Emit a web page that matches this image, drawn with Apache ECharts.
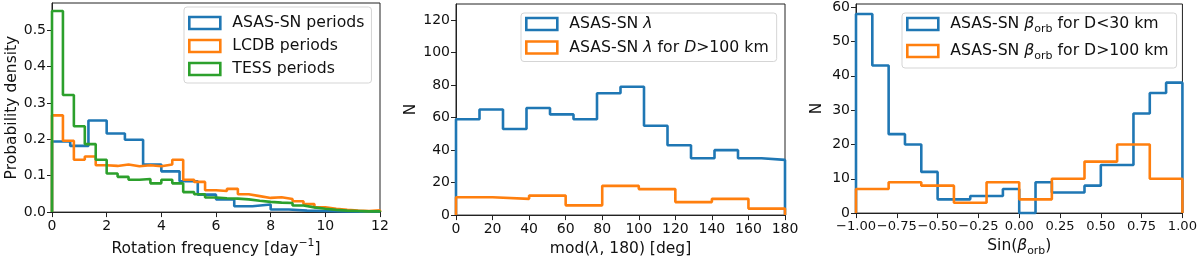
<!DOCTYPE html>
<html>
<head>
<meta charset="utf-8">
<script src="https://cdn.jsdelivr.net/npm/echarts@6/dist/echarts.min.js"></script>
<style>
html,body{margin:0;padding:0;background:#fff;}
#c{width:1200px;height:262px;}
</style>
</head>
<body>
<div id="c"></div>
<script>
// ---------- Panel 1: rotation frequency (probability density) ----------
const freqEdgesASAS = [0, 0.667, 1.333, 2, 2.667, 3.333, 4, 4.667, 5.333, 6, 6.667, 7.333, 8, 8.667, 9.333, 10, 10.667, 11.333, 12];
const freqASAS = [0.194, 0.182, 0.252, 0.216, 0.199, 0.131, 0.112, 0.085, 0.048, 0.035, 0.016, 0.021, 0.007, 0.004, 0.003, 0.002, 0.001, 0.001];
const freqEdges04 = [0, 0.4, 0.8, 1.2, 1.6, 2.0, 2.4, 2.8, 3.2, 3.6, 4.0, 4.4, 4.8, 5.2, 5.6, 6.0, 6.4, 6.8, 7.2, 7.6, 8.0, 8.4, 8.8, 9.2, 9.6, 10.0, 10.4, 10.8, 11.2, 11.6, 12.0];
const freqLCDB = [0.266, 0.196, 0.144, 0.153, 0.129, 0.127, 0.131, 0.126, 0.129, 0.126, 0.131, 0.144, 0.089, 0.083, 0.060, 0.058, 0.064, 0.049, 0.044, 0.039, 0.041, 0.036, 0.030, 0.022, 0.013, 0.009, 0.006, 0.004, 0.003, 0.005];
const freqTESS = [0.553, 0.322, 0.236, 0.187, 0.144, 0.106, 0.097, 0.089, 0.091, 0.079, 0.089, 0.079, 0.055, 0.049, 0.040, 0.038, 0.037, 0.035, 0.031, 0.028, 0.026, 0.025, 0.018, 0.013, 0.009, 0.006, 0.004, 0.003, 0.002, 0.002];
const xTicks1 = [0, 2, 4, 6, 8, 10, 12];
const yTicks1 = [0, 0.1, 0.2, 0.3, 0.4, 0.5];

// ---------- Panel 2: mod(lambda,180) ----------
const lamEdgesAll = [0, 12.857, 25.714, 38.571, 51.429, 64.286, 77.143, 90, 102.857, 115.714, 128.571, 141.429, 154.286, 167.143, 180];
const lamAll = [59, 65, 53, 66, 62, 59, 75, 79, 55, 43, 35, 40, 35, 34];
const lamEdgesBig = [0, 20, 40, 60, 80, 100, 120, 140, 160, 180];
const lamBig = [11, 10, 12, 6, 18, 16, 8, 10, 4];
const xTicks2 = [0, 20, 40, 60, 80, 100, 120, 140, 160, 180];
const yTicks2 = [0, 20, 40, 60, 80, 100, 120];

// ---------- Panel 3: sin(beta_orb) ----------
const betaEdgesSmall = [-1, -0.9, -0.8, -0.7, -0.6, -0.5, -0.4, -0.3, -0.2, -0.1, 0, 0.1, 0.2, 0.3, 0.4, 0.5, 0.6, 0.7, 0.8, 0.9, 1];
const betaSmall = [58, 43, 23, 20, 12, 4, 4, 5, 5, 7, 0, 9, 6, 6, 8, 14, 14, 29, 35, 38];
const betaEdgesBig = [-1, -0.8, -0.6, -0.4, -0.2, 0, 0.2, 0.4, 0.6, 0.8, 1];
const betaBig = [7, 9, 8, 3, 9, 4, 10, 15, 20, 10];
const xTicks3 = [-1, -0.75, -0.5, -0.25, 0, 0.25, 0.5, 0.75, 1];
const yTicks3 = [0, 10, 20, 30, 40, 50, 60];

const BLUE = '#1f77b4', ORANGE = '#ff7f0e', GREEN = '#2ca02c';
const FONT = 'DejaVu Sans';
const TXT = '#111';
const LEG = 15.7, NAME = 15.5, TICK = 14;

function stepPoints(edges, vals) {
  const pts = [[edges[0], 0]];
  for (let i = 0; i < vals.length; i++) {
    pts.push([edges[i], vals[i]]);
    pts.push([edges[i + 1], vals[i]]);
  }
  pts.push([edges[edges.length - 1], 0]);
  return pts;
}

function rich(fs) {
  return {
    i: {fontFamily: FONT, fontSize: fs, fontStyle: 'italic', color: TXT, lineHeight: 22},
    n: {fontFamily: FONT, fontSize: fs, color: TXT, lineHeight: 22},
    sub: {fontFamily: FONT, fontSize: fs * 0.7, color: TXT, verticalAlign: 'bottom', lineHeight: 14},
    sup: {fontFamily: FONT, fontSize: fs * 0.7, color: TXT, verticalAlign: 'top', lineHeight: 12}
  };
}

function xAxis(gi, min, max, ticks, name, fmt, gap, tickFont) {
  return {
    type: 'value', gridIndex: gi, min: min, max: max,
    name: name, nameLocation: 'middle', nameGap: gap,
    nameTextStyle: {fontFamily: FONT, fontSize: NAME, color: TXT, rich: rich(NAME)},
    axisLine: {show: true, onZero: false, lineStyle: {color: '#222', width: 1}},
    axisTick: {show: true, customValues: ticks, length: 5, inside: false, lineStyle: {color: '#222'}},
    axisLabel: {show: true, customValues: ticks, formatter: fmt, fontFamily: FONT, fontSize: tickFont || TICK, color: TXT, margin: 7,
      showMinLabel: true, showMaxLabel: true, hideOverlap: false},
    splitLine: {show: false}
  };
}
function yAxis(gi, min, max, ticks, name, fmt, gap) {
  return {
    type: 'value', gridIndex: gi, min: min, max: max,
    name: name, nameLocation: 'middle', nameGap: gap, nameRotate: 90,
    nameTextStyle: {fontFamily: FONT, fontSize: NAME, color: TXT},
    axisLine: {show: true, onZero: false, lineStyle: {color: '#222', width: 1}},
    axisTick: {show: true, customValues: ticks, length: 5, inside: false, lineStyle: {color: '#222'}},
    axisLabel: {show: true, customValues: ticks, formatter: fmt, fontFamily: FONT, fontSize: TICK, color: TXT, margin: 6,
      showMinLabel: true, showMaxLabel: true, hideOverlap: false},
    splitLine: {show: false}
  };
}
function series(name, gi, edges, vals, color) {
  return {
    name: name, type: 'line', xAxisIndex: gi, yAxisIndex: gi,
    data: stepPoints(edges, vals), showSymbol: false, symbol: 'none',
    lineStyle: {color: color, width: 2.6}, itemStyle: {color: color},
    animation: false, clip: true
  };
}
function legendItem(name, color) {
  return {name: name, icon: 'rect', itemStyle: {color: 'rgba(0,0,0,0)', borderColor: color, borderWidth: 2.6}};
}
function legend(left, top, items, gap, pad) {
  return {
    show: true, orient: 'vertical', left: left, top: top,
    data: items, itemWidth: 31, itemHeight: 12, itemGap: gap,
    padding: pad, backgroundColor: 'rgba(255,255,255,0.8)', borderColor: '#d5d5d5', borderWidth: 1, borderRadius: 3,
    selectedMode: false,
    textStyle: {fontFamily: FONT, fontSize: LEG, color: TXT, padding: [0, 0, 0, 7], rich: rich(LEG)},
    formatter: function (n) { return labelText[n] || n; }
  };
}

const labelText = {
  'ASAS-SN periods': '{n|ASAS-SN periods}',
  'LCDB periods': '{n|LCDB periods}',
  'TESS periods': '{n|TESS periods}',
  'lamAll': '{n|ASAS-SN }{i|λ}',
  'lamBig': '{n|ASAS-SN }{i|λ}{n| for }{i|D}{n|>100 km}',
  'betaSmall': '{n|ASAS-SN }{i|β}{sub|orb}{n| for D<30 km}',
  'betaBig': '{n|ASAS-SN }{i|β}{sub|orb}{n| for D>100 km}'
};

const minus = s => s.replace('-', '\u2212');

const option = {
  backgroundColor: '#fff',
  animation: false,
  grid: [
    {left: 52, top: 3, width: 328, height: 212, show: true, borderColor: '#222', borderWidth: 1, backgroundColor: 'transparent'},
    {left: 456, top: 4, width: 329, height: 213, show: true, borderColor: '#222', borderWidth: 1, backgroundColor: 'transparent'},
    {left: 856, top: 4, width: 328, height: 213, show: true, borderColor: '#222', borderWidth: 1, backgroundColor: 'transparent'}
  ],
  xAxis: [
    xAxis(0, 0, 12, xTicks1, '{n|Rotation frequency [day}{sup|\u22121}{n|]}', v => String(v), 21),
    xAxis(1, 0, 180, xTicks2, '{n|mod(}{i|λ}{n|, 180) [deg]}', v => String(v), 21),
    xAxis(2, -1, 1, xTicks3, '{n|Sin(}{i|β}{sub|orb}{n|)}', v => minus(v.toFixed(2)), 21, 13.1)
  ],
  yAxis: [
    yAxis(0, 0, 0.575, yTicks1, 'Probability density', v => v.toFixed(1), 31),
    yAxis(1, 0, 130, yTicks2, 'N', v => String(v), 34),
    yAxis(2, 0, 60.9, yTicks3, 'N', v => String(v), 31)
  ],
  legend: [
    legend(184, 7, [legendItem('ASAS-SN periods', BLUE), legendItem('LCDB periods', ORANGE), legendItem('TESS periods', GREEN)], 7, [8, 7, 6, 4]),
    legend(521, 13, [legendItem('lamAll', BLUE), legendItem('lamBig', ORANGE)], 7.5, [3, 8, 6, 4]),
    legend(902, 13, [legendItem('betaSmall', BLUE), legendItem('betaBig', ORANGE)], 8, [3, 8, 6, 4])
  ],
  series: [
    series('ASAS-SN periods', 0, freqEdgesASAS, freqASAS, BLUE),
    series('LCDB periods', 0, freqEdges04, freqLCDB, ORANGE),
    series('TESS periods', 0, freqEdges04, freqTESS, GREEN),
    series('lamAll', 1, lamEdgesAll, lamAll, BLUE),
    series('lamBig', 1, lamEdgesBig, lamBig, ORANGE),
    series('betaSmall', 2, betaEdgesSmall, betaSmall, BLUE),
    series('betaBig', 2, betaEdgesBig, betaBig, ORANGE)
  ]
};

const chart = echarts.init(document.getElementById('c'), null, {renderer: 'canvas'});
chart.setOption(option);
</script>
</body>
</html>
